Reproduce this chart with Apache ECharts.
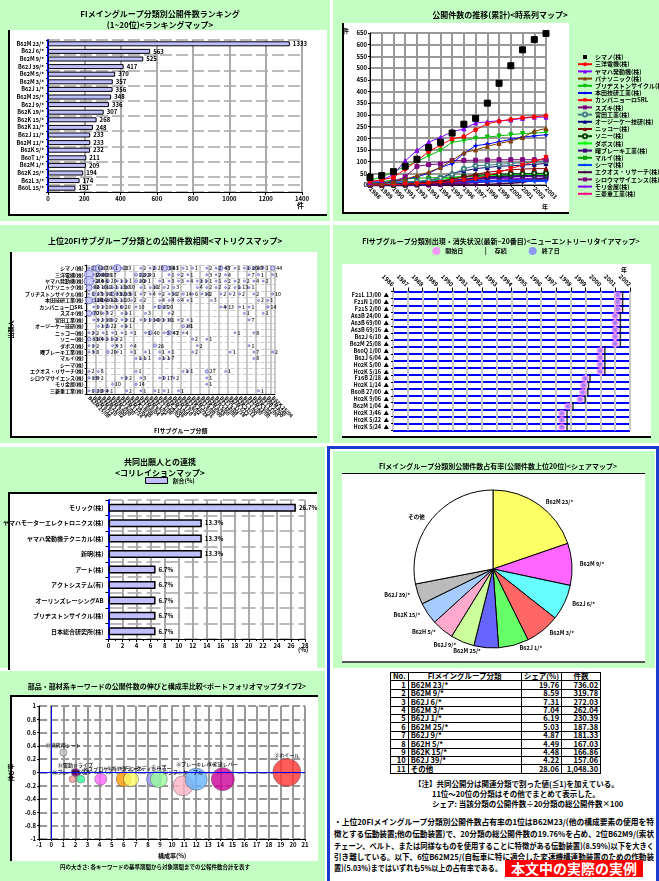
<!DOCTYPE html>
<html><head><meta charset="utf-8">
<script src="https://cdn.jsdelivr.net/npm/echarts@6/dist/echarts.min.js"></script>
<style>
body{margin:0;width:659px;height:881px;position:relative;overflow:hidden;background:#fff;font-family:"Noto Sans CJK JP",sans-serif;}
.g{position:absolute;background:#c3ffc3;}
.w{position:absolute;background:#fff;}
.c{position:absolute;}
#tbl{position:absolute;left:390px;top:672px;border-collapse:collapse;font-size:7.5px;font-weight:bold;line-height:6.5px;}
#tbl td{border:1px solid #000;padding:0 2px;height:7.4px;white-space:nowrap;}
#tbl td.r{text-align:right;}
.note{position:absolute;font-size:7.5px;line-height:9px;white-space:nowrap;font-weight:bold;}
.ln{position:absolute;left:334px;white-space:nowrap;font-weight:bold;line-height:11px;font-size:8px;}
.ln span{display:inline-block;transform-origin:0 50%;}
#red{position:absolute;left:505px;top:860px;width:138px;height:17px;background:#ff0000;color:#fff;font-weight:bold;font-size:14px;line-height:17px;text-align:center;}
</style></head><body>
<!-- panel 1 -->
<div class="g" style="left:0;top:0;width:330px;height:221px"></div>
<div class="w" style="left:8px;top:30px;width:317px;height:184px;border-left:2px solid #000;border-bottom:2px solid #000"></div>
<div id="c1" class="c" style="left:0;top:0;width:330px;height:221px"></div>
<!-- panel 2 -->
<div class="g" style="left:333px;top:0;width:326px;height:221px"></div>
<div class="w" style="left:342px;top:23px;width:225px;height:189px;border-left:2px solid #000;border-bottom:2px solid #000"></div>
<div id="c2" class="c" style="left:333px;top:0;width:326px;height:221px"></div>
<!-- panel 3 -->
<div class="g" style="left:0;top:225px;width:330px;height:218px"></div>
<div class="w" style="left:10px;top:252px;width:305px;height:184px;border-left:2px solid #000;border-bottom:2px solid #000"></div>
<div id="c3" class="c" style="left:0;top:225px;width:330px;height:218px"></div>
<!-- panel 4 -->
<div class="g" style="left:333px;top:225px;width:326px;height:218px"></div>
<div class="w" style="left:342px;top:264px;width:309px;height:172px;border-bottom:2px solid #000"></div>
<div id="c4" class="c" style="left:333px;top:225px;width:326px;height:218px"></div>
<!-- panel 5 -->
<div class="g" style="left:0;top:447px;width:325px;height:221px"></div>
<div class="w" style="left:8px;top:492px;width:307px;height:176px;border-left:2px solid #000;border-top:2px solid #000"></div>
<div id="c5" class="c" style="left:0;top:447px;width:325px;height:221px"></div>
<!-- panel 7 -->
<div class="g" style="left:0;top:671px;width:325px;height:210px"></div>
<div class="w" style="left:10px;top:695px;width:306px;height:164px;border-left:2px solid #000;border-top:2px solid #000"></div>
<div id="c7" class="c" style="left:0;top:671px;width:325px;height:210px"></div>
<!-- blue framed area -->
<div style="position:absolute;left:327px;top:446px;width:326px;height:432px;border:3px solid #1a3ccc;background:#fff"></div>
<div class="g" style="left:333px;top:451px;width:322px;height:217px"></div>
<div class="w" style="left:342px;top:473px;width:303px;height:187px;border-top:1px solid #000;border-bottom:2px solid #555"></div>
<div id="c6" class="c" style="left:333px;top:451px;width:322px;height:217px"></div>
<table id="tbl"></table>
<div class="note" style="left:414px;top:779px">【注】共同公開分は関連分類で割った値(≦1)を加えている。</div>
<div class="note" style="left:432px;top:789px">11位～20位の分類はその他でまとめて表示した。</div>
<div class="note" style="left:432px;top:799px">シェア: 当該分類の公開件数÷20分類の総公開件数×100</div>
<div class="ln" style="top:816px"><span>・上位20FIメイングループ分類別公開件数占有率の1位はB62M23/(他の構成要素の使用を特</span></div>
<div class="ln" style="top:828px"><span>徴とする伝動装置;他の伝動装置)で、20分類の総公開件数の19.76%を占め、2位B62M9/(索状</span></div>
<div class="ln" style="top:840px"><span>チェーン、ベルト、または同様なものを使用することに特徴がある伝動装置)(8.59%)以下を大きく</span></div>
<div class="ln" style="top:851px"><span>引き離している。以下、6位B62M25/(自転車に特に適合した変速機構連動装置のための作動装</span></div>
<div class="ln" style="top:862px"><span id="l5">置)(5.03%)まではいずれも5%以上の占有率である。</span></div>
<div id="red">本文中の実際の実例</div>
<script>
// ---------- DATA ----------
const rankCats = ['B62M 23/*','B62J 6/*','B62M 9/*','B62J 39/*','B62M 5/*','B62M 3/*','B62J 1/*','B62M 25/*','B62J 9/*','B62K 19/*','B62K 15/*','B62K 21/*','B62J 11/*','B62M 11/*','B62K 5/*','B60T 1/*','B62M 1/*','B62K 25/*','B62L 3/*','B60L 15/*'];
const rankVals = [1333,563,525,417,370,357,356,348,336,307,268,248,233,233,232,211,209,194,174,151];
const rankTicks = [0,200,400,600,800,1000,1200,1400];

const years = ['1988','1989','1990','1991','1992','1993','1994','1995','1996','1997','1998','1999','2000','2001','2002','2003'];
const lineNames = ['シマノ(株)','三洋電機(株)','ヤマハ発動機(株)','パナソニック(株)','ブリヂストンサイクル(株)','本田技研工業(株)','カンパニョーロSRL','スズキ(株)','宮田工業(株)','オージーケー技研(株)','ニッコー(株)','ソニー(株)','ダボス(株)','曙ブレーキ工業(株)','マルイ(株)','シーマ(株)','エクオス・リサーチ(株)','シロウマサイエンス(株)','モリ金属(株)','三菱重工業(株)'];
const shimano     = [32,40,57,80,110,160,183,222,260,285,350,435,510,578,622,648];
const sanyo       = [15,22,32,68,103,143,170,197,207,236,262,273,280,288,292,296];
const yamaha      = [12,20,45,103,148,183,203,228,240,265,270,275,278,285,290,290];
const panasonic   = [5,8,15,25,40,55,75,105,138,150,165,178,188,203,230,242];
const bridgestone = [20,35,57,80,100,125,148,183,190,200,205,210,215,220,222,225];
const honda       = [5,10,15,25,35,50,75,92,135,168,175,185,195,205,210,215];
const campagnolo  = [0,0,2,4,5,8,10,15,20,25,40,55,70,85,100,118];
const suzuki      = [2,5,15,35,80,87,90,105,105,106,107,108,108,108,108,108];
const miyata      = [3,5,8,12,15,20,30,45,70,82,85,88,92,95,100,103];
const ogk         = [0,2,5,8,12,20,30,50,60,70,75,80,82,85,88,92];
const nikko       = [0,0,2,5,8,12,18,25,35,45,55,60,65,68,70,70];
const sony        = [0,0,0,2,5,10,15,25,35,40,45,45,48,48,50,50];
const dabos       = [0,2,5,10,15,20,25,30,35,38,40,42,43,45,45,45];
const akebono     = [0,0,0,0,2,5,8,15,22,28,32,35,38,40,42,42];
const marui       = [10,15,20,25,30,30,32,34,36,37,38,38,40,40,40,40];
const shima       = [5,8,10,12,12,14,15,15,16,16,16,17,17,18,18,18];
const equos       = [0,0,0,0,0,0,0,0,0,0,2,5,8,12,20,30];
const shirouma    = [0,0,0,0,0,0,2,5,8,12,15,18,20,22,25,28];
const mori        = [0,0,2,5,10,15,18,20,22,25,26,27,28,28,29,30];
const mhi         = [0,0,0,0,2,5,8,10,12,15,18,20,22,24,26,28];
const lineValues = [shimano,sanyo,yamaha,panasonic,bridgestone,honda,campagnolo,suzuki,miyata,ogk,nikko,sony,dabos,akebono,marui,shima,equos,shirouma,mori,mhi];

const matrixCols = ['B62M 25/08','B62M 9/12','B62M 9/10','B62M 23/02','B62M 9/00','B62M 3/00','B62J 6/00','B62M 11/14','B62M 25/04','B62K 19/30','B62J 6/06','B62M 9/04','B62M 9/14','B62L 3/02','B62J 1/08','B62M 25/02','B62K 23/06','B62M 3/08','B62M 1/10','B62M 9/16','B62J 6/02','B62K 25/28','B62M 11/16','B62J 9/00','B62K 15/00','B62M 6/55','B62H 5/00','B62J 39/00','B62J 6/04','B60L 11/18','B62M 7/12','B62K 21/12','B62L 1/00','B62J 1/00','B62M 23/00','B62K 5/02','B62J 11/00','B60B 27/00','B62M 6/45','B62K 25/04'];
const matrixRowsNames = lineNames;
const m00 = [1,62,110,7,0,1,133,1,0,0,0,2,0,2,20,0,83,43,1,0,1,0,1,0,0,2,0,2,43,7,0,1,0,1,20,20,7,1,0,44];
const m01 = [198,2,40,28,17,0,0,0,0,0,22,22,3,1,0,0,0,1,0,2,0,1,0,0,0,3,0,2,0,4,0,0,0,0,7,0,1,0,0,1];
const m02 = [210,2,4,6,20,0,1,1,1,0,20,2,1,0,0,1,0,3,0,3,0,4,0,1,1,1,0,1,0,2,0,2,0,2,0,4,0,2,0,0];
const m03 = [90,2,10,11,1,1,13,10,10,0,0,1,0,10,2,0,2,0,3,0,0,0,0,4,0,2,0,2,0,2,0,1,13,0,1,0,0,0,0,0];
const m04 = [1,27,1,10,1,33,12,13,1,1,0,7,0,4,0,2,0,10,2,0,14,0,6,0,10,2,0,0,2,0,2,0,2,0,0,2,0,0,0,10];
const m05 = [120,28,14,20,12,1,11,10,0,2,0,2,0,0,0,4,0,4,0,4,0,1,0,0,0,0,3,0,0,0,0,0,0,0,0,0,2,0,1,0];
const m06 = [0,1,1,10,0,1,6,20,0,0,10,0,0,0,1,27,20,0,0,0,0,0,0,0,0,0,0,0,4,13,0,0,1,0,1,0,0,0,14,0];
const m07 = [70,26,0,7,2,0,0,1,1,0,0,0,3,0,0,0,0,2,0,0,0,0,0,0,0,0,0,0,0,0,0,0,0,1,0,0,0,1,0,0];
const m08 = [0,3,2,10,1,2,0,2,12,0,0,1,1,14,1,1,10,1,0,2,0,1,0,0,0,0,0,0,0,0,0,0,0,0,7,0,0,0,0,0];
const m09 = [0,0,1,2,22,0,0,1,1,0,0,0,0,0,0,0,0,0,0,0,20,1,0,0,0,0,0,0,0,0,0,0,0,0,0,0,0,0,0,0];
const m10 = [2,2,0,1,0,1,0,1,0,1,0,0,1,40,0,0,3,47,2,0,4,0,0,0,0,0,0,0,0,0,0,1,0,0,0,8,0,0,0,0];
const m11 = [33,10,4,1,1,2,2,0,0,0,0,0,0,0,0,0,0,0,0,0,0,0,2,0,0,1,0,0,0,0,0,0,0,0,0,0,0,0,0,0];
const m12 = [1,2,0,0,0,3,3,0,0,4,0,0,0,0,26,0,0,0,0,0,0,0,0,2,0,0,0,0,0,0,0,0,0,0,1,0,0,0,0,0];
const m13 = [3,8,0,0,20,0,1,0,0,1,0,0,1,0,0,1,0,1,0,0,0,0,2,0,0,0,0,0,0,0,1,0,0,0,0,7,0,0,0,2];
const m14 = [0,0,0,0,0,0,0,0,0,0,1,1,1,0,0,1,1,7,0,0,0,0,0,0,0,0,0,0,0,0,0,0,0,0,0,8,0,0,0,0];
const m15 = [0,0,0,0,0,0,0,0,0,0,0,0,0,0,0,0,0,0,0,0,0,0,0,0,0,0,0,0,0,0,0,0,0,0,0,0,0,0,0,0];
const m16 = [2,0,8,0,0,0,0,0,0,0,1,0,0,0,0,0,0,0,0,0,1,1,0,0,0,27,0,0,0,1,0,0,0,0,0,0,0,0,0,0];
const m17 = [13,3,2,0,0,0,0,1,2,0,0,3,0,0,0,1,17,0,2,0,0,0,0,0,0,1,0,0,0,0,0,0,0,0,0,0,0,0,0,0];
const m18 = [0,0,0,0,0,10,0,0,0,0,14,0,0,0,0,0,0,0,0,0,0,0,0,0,0,1,0,0,0,0,0,0,0,0,0,0,0,0,0,0];
const m19 = [1,20,2,4,1,0,0,0,2,0,0,1,0,0,1,0,1,0,0,1,0,0,0,0,0,0,0,0,0,0,0,0,0,0,0,0,1,0,0,0];
const matrixRows = [m00,m01,m02,m03,m04,m05,m06,m07,m08,m09,m10,m11,m12,m13,m14,m15,m16,m17,m18,m19];

const entryCats = ['F21L 13/00','F21N 1/00','F21S 2/00','A63B 24/00','A63B 69/00','A63B 69/16','B62J 6/10','B62M 25/08','B60Q 1/00','B62J 6/04','H02K 5/00','H02K 5/16','F16B 2/18','H02K 1/14','B60B 27/00','H02K 9/06','B62M 1/04','H02K 3/46','H02K 5/22','H02K 5/24'];
const entryStart = [2001.17,2001.17,2001.17,2001.0,2001.0,2001.0,2001.0,2001.0,1999.98,1999.98,1999.98,1999.98,1998.97,1998.86,1998.8,1998.64,1997.8,1997.4,1997.4,1997.4];
const entryEnd   = [2001.17,2001.17,2001.17,2001.0,2001.0,2001.0,2001.0,2001.0,1999.98,1999.98,1999.98,1999.98,1998.97,1998.86,1998.8,1998.64,1997.8,1997.4,1997.4,1997.4];
const entryLast  = [2001.5,2001.5,2001.5,2001.35,2001.35,2001.35,2001.35,2001.35,2000.3,2000.3,2000.3,2000.3,1999.3,1999.2,1999.15,1998.97,1998.15,1997.75,1997.75,1997.75];

const coCats = ['モリック(株)','ヤマハモーターエレクトロニクス(株)','ヤマハ発動機テクニカル(株)','新明(株)','アート(株)','アクトシステム(有)','オーリンズレーシングAB','ブリヂストンサイクル(株)','日本総合研究所(株)'];
const coVals = [26.7,13.3,13.3,13.3,6.7,6.7,6.7,6.7,6.7];

const shareCats = ['B62M 23/*','B62M 9/*','B62J 6/*','B62M 3/*','B62J 1/*','B62M 25/*','B62J 9/*','B62H 5/*','B62K 15/*','B62J 39/*','その他'];
const shareVals = [19.76,8.59,7.31,7.04,6.19,5.03,4.87,4.49,4.48,4.22,28.06];
const shareCounts = ['736.02','319.78','272.03','262.04','230.39','187.38','181.33','167.03','166.86','157.06','1,048.30'];

const kwNames = ['⑭消耗用シート','⑬電動ドライブ','⑫ブレーキシュー','⑪ペダル','⑩スプロケット','⑨ギヤクランク','⑧チェーン','⑦ディレーラー','⑥ハブ','⑤シフトケーブル','④ブレーキレバー','③変速レバー','②ホイール'];
const kwShare = [1.0,2.0,1.75,2.45,4.1,6.0,6.6,8.5,8.9,10.9,12.0,14.2,19.5];
const kwGrowth = [0.3,0.0,-0.1,-0.1,-0.1,-0.1,-0.1,-0.1,-0.1,-0.2,-0.1,-0.1,0.0];
const kwCount = [24,30,22,30,68,107,107,107,137,190,230,252,373];

// ---------- HELPERS ----------
const F = '"Noto Sans CJK JP", sans-serif';
const lab = {fontSize:6, fontWeight:'bold', color:'#000', fontFamily:F};
function mk(id, opt){
  const c = echarts.init(document.getElementById(id), null, {renderer:'canvas'});
  opt.textStyle = {fontFamily:F};
  opt.animation = false;
  c.setOption(opt);
  return c;
}
function ttl(text, left, top, size){
  return {text:text, left:left, top:top, textAlign:'center', textStyle:{fontSize:size||8, fontWeight:'bold', color:'#000', lineHeight:11, fontFamily:F}};
}
function gtext(x, y, t, size, extra){
  return Object.assign({type:'text', left:x, top:y, style:{text:t, fontSize:size||6, fontWeight:'bold', fill:'#000', fontFamily:F}}, extra||{});
}

// ---------- PANEL 1 ----------
mk('c1', {
  title: ttl('FIメイングループ分類別公開件数ランキング\n(1~20位)<ランキングマップ>', 155, 3, 8),
  grid:{left:48, right:28, top:40, bottom:29},
  xAxis:{type:'value', min:rankTicks[0], max:rankTicks[rankTicks.length-1], interval:200,
    axisLine:{show:true, lineStyle:{color:'#000'}}, axisTick:{show:true, length:3, lineStyle:{color:'#000'}},
    axisLabel:Object.assign({margin:4, formatter:(v)=>String(v)}, lab), splitLine:{show:true, lineStyle:{color:'#aaa', width:2}}},
  yAxis:{type:'category', inverse:true, data:rankCats,
    axisLine:{lineStyle:{color:'#0000ff', width:2}}, axisTick:{show:true, length:2, interval:0, lineStyle:{color:'#000'}},
    axisLabel:Object.assign({margin:4, interval:0}, lab, {fontSize:5.5}), splitLine:{show:true, interval:1, lineStyle:{color:'#bbb', width:2, type:[12,4]}}},
  series:[{type:'bar', data:rankVals, barWidth:5, itemStyle:{color:'#c0c0ff', borderColor:'#000', borderWidth:1},
    label:Object.assign({show:true, position:'right', distance:3}, lab)}],
  graphic:[gtext(297, 202, '件', 7)]
});

// ---------- PANEL 2 ----------
const plus = 'path://M4,0h1v9h-1zM0,4h9v1h-9z';
const lineStyleDefs = [
 ['#000000','rect',0,1],['#ff0000','circle',0,1],['#8000ff','triangle',0,1],['#804000','triangle',0,1],
 ['#00c000','triangle',180,1],['#0000ff',plus,0,1],['#ff0000','triangle',180,1],['#800080','path://M0,0h9v2h-9z',0,1],
 ['#408080','emptyCircle',0,1],['#000080','triangle',0,1],['#800000','triangle',0,1],['#004000','emptyCircle',0,1],
 ['#00ff00','triangle',180,1],['#400080','rect',0,3],['#00a000','rect',0,1],['#0040ff',plus,0,2.5],
 ['#400040',plus,0,1.5],['#800080','rect',0,2],['#8000ff',plus,0,1],['#ff0080',plus,0,1]
];
mk('c2', {
  title: ttl('公開件数の推移(累計)<時系列マップ>', 162, 4, 8),
  grid:{left:37, right:113, top:33, bottom:36},
  legend:{orient:'vertical', left:244, top:54, itemWidth:14, itemHeight:5, itemGap:1.2, padding:0,
    textStyle:{fontSize:6, fontWeight:'bold', color:'#000', fontFamily:F, padding:[0,0,0,-2]}, data:lineNames},
  xAxis:{type:'category', data:years, boundaryGap:false,
    axisLine:{show:true, lineStyle:{color:'#000'}}, axisTick:{show:true, length:2, lineStyle:{color:'#000'}},
    axisLabel:Object.assign({rotate:-45, margin:3, interval:0}, lab),
    splitLine:{show:true, lineStyle:{color:'#999', width:2}}},
  yAxis:{type:'value', min:0, max:650, interval:50,
    axisLine:{show:true, lineStyle:{color:'#000'}}, axisTick:{show:true, length:2, lineStyle:{color:'#000'}},
    axisLabel:Object.assign({margin:3}, lab), splitLine:{show:true, lineStyle:{color:'#999', width:2}}},
  series: lineNames.map((n,i)=>({type:'line', name:n, data:lineValues[i], symbol:lineStyleDefs[i][1], symbolRotate:lineStyleDefs[i][2],
    symbolSize: i===0?6:4, showAllSymbol:true, color:lineStyleDefs[i][0],
    itemStyle:{color:lineStyleDefs[i][0], borderColor:lineStyleDefs[i][0]},
    lineStyle:{color:lineStyleDefs[i][0], width: i===0?0:lineStyleDefs[i][3]}, z: 20-i})),
  graphic:[gtext(10, 28, '件', 6), gtext(209, 204, '年', 6)]
});

// ---------- PANEL 3 ----------
const matrixData = [];
matrixRows.forEach((row,j)=>row.forEach((v,i)=>{ if(v>0) matrixData.push([i,j,v]); }));
mk('c3', {
  title: ttl('上位20FIサブグループ分類との公開件数相関<マトリクスマップ>', 160, 5, 8),
  grid:{left:82, right:55, top:40, bottom:49},
  xAxis:{type:'category', data:matrixCols, name:'FIサブグループ分類', nameLocation:'middle', nameGap:34,
    nameTextStyle:{fontSize:6, fontWeight:'bold', color:'#000', fontFamily:F},
    axisLine:{show:true, lineStyle:{color:'#000'}}, axisTick:{show:false},
    axisLabel:Object.assign({rotate:-45, interval:0, margin:3}, lab, {fontSize:5}),
    splitLine:{show:true, interval:1, lineStyle:{color:'#b8b8b8', width:1.5}}},
  yAxis:{type:'category', data:matrixRowsNames, inverse:true, name:'出願人', nameLocation:'middle', nameGap:70, nameRotate:90,
    nameTextStyle:{fontSize:6, fontWeight:'bold', color:'#000', fontFamily:F},
    axisLine:{show:true, lineStyle:{color:'#000'}}, axisTick:{show:true, length:2, interval:0, lineStyle:{color:'#000'}},
    axisLabel:Object.assign({margin:3, interval:0}, lab, {fontSize:5}),
    splitLine:{show:true, interval:0, lineStyle:{color:'#ccc', width:1, type:'dashed'}}},
  series:[{type:'scatter', data:matrixData, symbolSize:(d)=>Math.max(2, Math.sqrt(d[2])*0.65),
    itemStyle:{color:'#c0c0ff', borderColor:'#5050b0', borderWidth:0.8},
    labelLayout:{hideOverlap:false},
    label:{show:true, position:'right', distance:1, formatter:(p)=>p.data[2], fontSize:5, fontWeight:'bold', color:'#000', fontFamily:F}}]
});

// ---------- PANEL 4 ----------
mk('c4', {
  title: ttl('FIサブグループ分類別出現・消失状況(最新~20番目)<ニューエントリーリタイアマップ>', 163, 6, 7),
  legend:{top:22, left:'center', itemGap:22, itemWidth:8, itemHeight:8, padding:0,
    textStyle:{fontSize:6, fontWeight:'bold', color:'#000', fontFamily:F},
    data:[{name:'開始日', icon:'circle'},{name:'存続', icon:'path://M0,0h1v10h-1z'},{name:'終了日', icon:'circle'}]},
  grid:{left:60, right:29, top:66.5, bottom:12.5},
  xAxis:{type:'value', position:'top', min:1986, max:2002, interval:1,
    axisLine:{show:false}, axisTick:{show:true, length:4, lineStyle:{color:'#000'}},
    axisLabel:Object.assign({rotate:45, margin:6, formatter:(v)=>String(v)}, lab),
    splitLine:{show:true, lineStyle:{color:'#c8c8c8', width:2}}},
  yAxis:{type:'category', data:entryCats, inverse:true,
    axisLine:{show:false}, axisTick:{show:true, length:2, interval:0, lineStyle:{color:'#000'}},
    axisLabel:Object.assign({margin:4, interval:0, formatter:(v)=>v+'  ▲'}, lab, {fontSize:5.5}),
    splitLine:{show:true, interval:0, lineStyle:{color:'#0000ff', width:2}}},
  series:[
    {type:'scatter', name:'開始日', data:entryStart.map((v,i)=>[v,i]), symbol:'circle', symbolSize:7, itemStyle:{color:'#ff80ff'}, z:3},
    {type:'scatter', name:'存続', data:entryLast.map((v,i)=>[v,i]), symbol:'path://M0,0h1v10h-1z', symbolSize:[1.5,8], itemStyle:{color:'#000'}, z:2},
    {type:'scatter', name:'終了日', data:entryEnd.map((v,i)=>[v,i]), symbol:'circle', symbolSize:4, itemStyle:{color:'#8080ff'}, z:4}
  ],
  graphic:[gtext(288, 42, '年', 6)]
});

// ---------- PANEL 5 ----------
mk('c5', {
  title: ttl('共同出願人との連携\n<コリレイションマップ>', 155, 4, 8),
  legend:{top:30, left:145, itemWidth:22, itemHeight:6, padding:0, icon:'rect',
    textStyle:{fontSize:6, fontWeight:'bold', color:'#000', fontFamily:F},
    itemStyle:{borderColor:'#000', borderWidth:1}, data:['割合(%)']},
  grid:{left:98, right:20, top:53, bottom:29},
  xAxis:{type:'value', min:0, max:28, interval:2,
    axisLine:{show:true, lineStyle:{color:'#000'}}, axisTick:{show:true, length:3, lineStyle:{color:'#000'}},
    minorTick:{show:true, splitNumber:2, length:2, lineStyle:{color:'#000'}},
    axisLabel:Object.assign({margin:4}, lab), splitLine:{show:true, lineStyle:{color:'#aaa', width:2}}},
  yAxis:{type:'category', data:coCats, inverse:true,
    axisLine:{lineStyle:{color:'#0000ff', width:2}}, axisTick:{show:true, length:3, lineStyle:{color:'#000'}},
    axisLabel:Object.assign({margin:5, interval:0}, lab), splitLine:{show:true, lineStyle:{color:'#bbb', width:2, type:[14,5]}}},
  series:[{type:'bar', name:'割合(%)', data:coVals, barWidth:8, itemStyle:{color:'#c0c0ff', borderColor:'#000', borderWidth:1.5},
    label:Object.assign({show:true, position:'right', distance:3, formatter:'{c}%'}, lab)}],
  graphic:[gtext(298, 200, '(%)', 6)]
});

// ---------- PANEL 6 ----------
const pieColors = ['#ffff66','#ff66ff','#66ffff','#ff6666','#66ff66','#6666ff','#ccff99','#ffaacc','#a6ccff','#bbbbbb','#ffffff'];
mk('c6', {
  title: ttl('FIメイングループ分類別公開件数占有率(公開件数上位20位)<シェアマップ>', 160, 5, 7),
  series:[{type:'pie', center:[160,118], radius:79, startAngle:90, clockwise:true,
    data: shareCats.map((c,i)=>({name:c, value:shareVals[i], itemStyle:{color:pieColors[i]}})),
    itemStyle:{borderColor:'#000', borderWidth:1},
    label:{show:true, position:'outside', fontSize:5.5, fontWeight:'bold', color:'#000', fontFamily:F, formatter:'{b}'},
    labelLine:{show:false, length:3, length2:0}, avoidLabelOverlap:false}]
});

// table
(function(){
  const t = document.getElementById('tbl');
  let h = '<tr><td style="width:12px">No.</td><td style="width:108px;text-align:center">FIメイングループ分類</td><td style="width:32px;text-align:center">シェア(%)</td><td style="width:34px;text-align:center">件数</td></tr>';
  shareCats.forEach((c,i)=>{
    h += '<tr><td class="r">'+(i+1)+'</td><td>'+c+'</td><td class="r">'+shareVals[i].toFixed(2)+'</td><td class="r">'+shareCounts[i]+'</td></tr>';
  });
  t.innerHTML = h;
})();

// ---------- PANEL 7 ----------
const kwColors = ['#c0c0c0','#800080','#ff9999','#33ff99','#ff66ff','#ff9900','#ffff66','#9999ff','#99ff99','#ffb3c6','#66b3ff','#cc0099','#ff3333'];
mk('c7', {
  title: ttl('部品・部材系キーワードの公開件数の伸びと構成率比較<ポートフォリオマップタイプ2>', 162, 5, 7),
  grid:{left:38, right:20, top:35, bottom:42},
  xAxis:{type:'value', min:-1, max:21, interval:1, name:'構成率(%)', nameLocation:'middle', nameGap:11,
    nameTextStyle:{fontSize:6, fontWeight:'bold', color:'#000', fontFamily:F},
    axisLine:{show:true, onZero:false, lineStyle:{color:'#000'}}, axisTick:{show:true, length:2, lineStyle:{color:'#000'}},
    axisLabel:Object.assign({margin:3}, lab), splitLine:{show:true, lineStyle:{color:'#999', width:2}}},
  yAxis:{type:'value', min:-1, max:1, interval:0.2, name:'伸び率', nameLocation:'middle', nameGap:17, nameRotate:90,
    nameTextStyle:{fontSize:6, fontWeight:'bold', color:'#000', fontFamily:F},
    axisLine:{show:true, onZero:false, lineStyle:{color:'#000'}}, axisTick:{show:true, length:2, lineStyle:{color:'#000'}},
    axisLabel:Object.assign({margin:3, formatter:(v)=>{const r=Math.round(v*10)/10; return Number.isInteger(r)?String(r):r.toFixed(1);}}, lab),
    splitLine:{show:true, lineStyle:{color:'#999', width:2, type:[8,3]}}},
  series:[{type:'scatter',
    data: kwNames.map((n,i)=>({name:n, value:[kwShare[i], kwGrowth[i], kwCount[i]],
      itemStyle:{color:kwColors[i], borderColor:'#555', borderWidth:0.6,
        decal:{symbol:'rect', symbolSize:1, color:'rgba(255,255,255,0.55)', dashArrayX:[1,1], dashArrayY:[1,1], rotation:0}}})),
    symbolSize:(d)=>Math.sqrt(d[2])*1.45,
    label:{show:true, position:'top', distance:1, formatter:'{b}', fontSize:5, fontWeight:'bold', color:'#000', fontFamily:F},
    markLine:{silent:true, symbol:'none', label:{show:false}, lineStyle:{color:'#0000ff', width:1, type:'solid'},
      data:[{xAxis:0},{yAxis:0}]}, z:3}],
  graphic:[gtext(60, 193, '円の大きさ: 各キーワードの基準期間から対象期間までの公報件数合計を表す', 5.5)]
});

// ---------- fit paragraph lines ----------
function fit(){
  const spans = document.querySelectorAll('.ln span');
  let sc = [];
  spans.forEach((el,i)=>{
    el.style.transform = 'none';
    const w = el.getBoundingClientRect().width;
    let s;
    if (i < 4) { s = 320 / w; sc.push(s); }
    else { s = Math.min(sc.reduce((a,b)=>a+b,0)/sc.length, 168 / w); }
    el.style.transform = 'scaleX('+s+')';
  });
}
fit();
if (document.fonts && document.fonts.ready) document.fonts.ready.then(fit);
</script>
</body></html>
